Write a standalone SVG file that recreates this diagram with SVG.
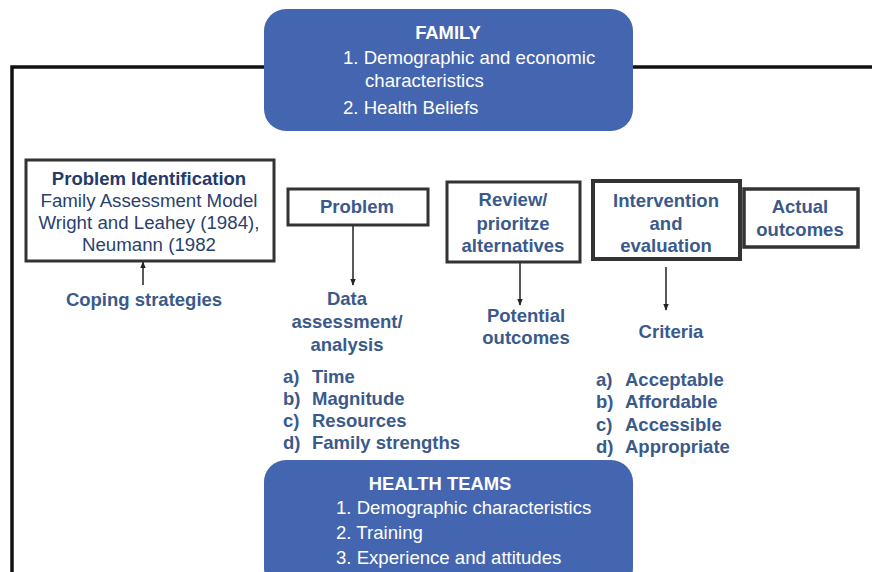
<svg xmlns="http://www.w3.org/2000/svg" width="872" height="572" viewBox="0 0 872 572">
<defs>
<marker id="ah" viewBox="0 0 10 10" refX="9" refY="5" markerWidth="7" markerHeight="7" orient="auto-start-reverse" markerUnits="userSpaceOnUse">
<path d="M0,1 L10,5 L0,9 z" fill="#222"/>
</marker>
<style>
text{font-family:"Liberation Sans",Arial,sans-serif}
.blue{fill:#4466B0}
.wt{fill:#fff;font-size:18.6px}
.wb{fill:#fff;font-size:18.4px;font-weight:bold}
.box{fill:#fff;stroke:#333;stroke-width:3}
.lb{fill:#3A5A8C;font-size:18.5px;font-weight:bold}
.nv{fill:#2B3F6E;font-size:18.7px}
.nvb{fill:#243A6B;font-size:18.5px;font-weight:bold}
.conn{stroke:#222;stroke-width:1.5;fill:none}
.frame{stroke:#111;stroke-width:3.5;fill:none}
</style>
</defs>
<rect width="872" height="572" fill="#fff"/>
<g id="connectors">
<polyline class="frame" points="264,67 12,67 12,572"/>
<line class="frame" x1="633" y1="67" x2="872" y2="67"/>
<line class="conn" x1="143" y1="285" x2="143" y2="262" marker-end="url(#ah)"/>
<line class="conn" x1="353" y1="225" x2="353" y2="285" marker-end="url(#ah)"/>
<line class="conn" x1="520" y1="263" x2="520" y2="305" marker-end="url(#ah)"/>
<line class="conn" x1="666" y1="267" x2="666" y2="310" marker-end="url(#ah)"/>
</g>
<g id="family">
<rect class="blue" x="264" y="9" width="369" height="122" rx="22"/>
<text class="wb" x="448" y="39" text-anchor="middle">FAMILY</text>
<text class="wt" x="343" y="64">1. Demographic and economic</text>
<text class="wt" x="365" y="87">characteristics</text>
<text class="wt" x="343" y="114">2. Health Beliefs</text>
</g>
<g id="problem-identification">
<rect class="box" x="26" y="160" width="248" height="101"/>
<text class="nvb" x="149" y="185" text-anchor="middle">Problem Identification</text>
<text class="nv" x="149" y="207" text-anchor="middle">Family Assessment Model</text>
<text class="nv" x="149" y="229" text-anchor="middle">Wright and Leahey (1984),</text>
<text class="nv" x="149" y="251" text-anchor="middle">Neumann (1982</text>
</g>
<g id="coping">
<text class="lb" x="144" y="306" text-anchor="middle">Coping strategies</text>
</g>
<g id="problem">
<rect class="box" x="288" y="189" width="140" height="36"/>
<text class="lb" x="357" y="213" text-anchor="middle">Problem</text>
</g>
<g id="data-assessment">
<text class="lb" x="347" y="305" text-anchor="middle">Data</text>
<text class="lb" x="347" y="328" text-anchor="middle">assessment/</text>
<text class="lb" x="347" y="351" text-anchor="middle">analysis</text>
<text class="lb" x="283" y="383">a)</text><text class="lb" x="312" y="383">Time</text>
<text class="lb" x="283" y="405">b)</text><text class="lb" x="312" y="405">Magnitude</text>
<text class="lb" x="283" y="427">c)</text><text class="lb" x="312" y="427">Resources</text>
<text class="lb" x="283" y="449">d)</text><text class="lb" x="312" y="449">Family strengths</text>
</g>
<g id="review">
<rect class="box" x="447" y="182" width="133" height="80"/>
<text class="lb" x="513" y="206" text-anchor="middle">Review/</text>
<text class="lb" x="513" y="230" text-anchor="middle">prioritze</text>
<text class="lb" x="513" y="252" text-anchor="middle">alternatives</text>
</g>
<g id="potential">
<text class="lb" x="526" y="322" text-anchor="middle">Potential</text>
<text class="lb" x="526" y="344" text-anchor="middle">outcomes</text>
</g>
<g id="intervention">
<rect class="box" x="593" y="181" width="147" height="78" style="stroke-width:4"/>
<text class="lb" x="666" y="207" text-anchor="middle">Intervention</text>
<text class="lb" x="666" y="230" text-anchor="middle">and</text>
<text class="lb" x="666" y="252" text-anchor="middle">evaluation</text>
</g>
<g id="criteria">
<text class="lb" x="671" y="338" text-anchor="middle">Criteria</text>
<text class="lb" x="596" y="386">a)</text><text class="lb" x="625" y="386">Acceptable</text>
<text class="lb" x="596" y="408">b)</text><text class="lb" x="625" y="408">Affordable</text>
<text class="lb" x="596" y="431">c)</text><text class="lb" x="625" y="431">Accessible</text>
<text class="lb" x="596" y="453">d)</text><text class="lb" x="625" y="453">Appropriate</text>
</g>
<g id="actual">
<rect class="box" x="744" y="189" width="114" height="58" style="stroke-width:3.5"/>
<text class="lb" x="800" y="213" text-anchor="middle">Actual</text>
<text class="lb" x="800" y="236" text-anchor="middle">outcomes</text>
</g>
<g id="health-teams">
<rect class="blue" x="264" y="460" width="369" height="130" rx="22"/>
<text class="wb" x="440" y="490" text-anchor="middle">HEALTH TEAMS</text>
<text class="wt" x="336" y="514">1. Demographic characteristics</text>
<text class="wt" x="336" y="539">2. Training</text>
<text class="wt" x="336" y="564">3. Experience and attitudes</text>
</g>
</svg>
